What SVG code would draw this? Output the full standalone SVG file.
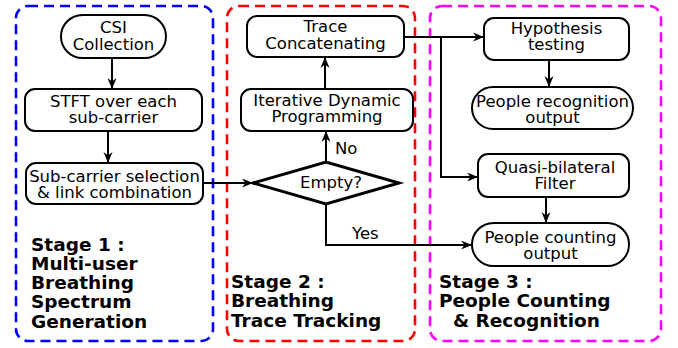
<svg xmlns="http://www.w3.org/2000/svg" width="678" height="348" viewBox="0 0 678 348">
  <style>
    .stage { fill: none; stroke-width: 2.6; stroke-dasharray: 10 6; }
    .node { fill: #fff; stroke: #000; stroke-width: 2; }
    .dia { fill: #fff; stroke: #000; stroke-width: 3; }
    .conn { fill: none; stroke: #000; stroke-width: 2; }
    .t { font-family: "DejaVu Sans", Verdana, sans-serif; font-size: 16.5px; fill: #000; text-anchor: middle; }
    .lbl { font-family: "DejaVu Sans", Verdana, sans-serif; font-size: 16.5px; fill: #000; }
    .st { font-family: "DejaVu Sans", Verdana, sans-serif; font-size: 18.5px; font-weight: bold; fill: #000; }
  </style>
  <defs>
    <marker id="arr" markerUnits="userSpaceOnUse" markerWidth="12" markerHeight="10" refX="11" refY="5" orient="auto">
      <path d="M0,0.5 L11,5 L0,9.5 L3.5,5 Z" fill="#000"/>
    </marker>
  </defs>

  <!-- stage frames -->
  <g id="stage1">
    <rect class="stage" x="16" y="6" width="197" height="335" rx="12" stroke="#0000ff"/>
    <text class="st" x="31" y="251">Stage 1 :</text>
    <text class="st" x="31" y="270">Multi-user</text>
    <text class="st" x="31" y="289">Breathing</text>
    <text class="st" x="31" y="308">Spectrum</text>
    <text class="st" x="31" y="328">Generation</text>
  </g>
  <g id="stage2">
    <rect class="stage" x="227" y="6" width="188" height="335" rx="12" stroke="#ff0000"/>
    <text class="st" x="231" y="288">Stage 2 :</text>
    <text class="st" x="231" y="307">Breathing</text>
    <text class="st" x="231" y="327">Trace Tracking</text>
  </g>
  <g id="stage3">
    <rect class="stage" x="430" y="6" width="231" height="335" rx="12" stroke="#ff00ff"/>
    <text class="st" x="439" y="288">Stage 3 :</text>
    <text class="st" x="439" y="307">People Counting</text>
    <text class="st" x="453" y="327">&amp; Recognition</text>
  </g>

  <!-- connectors -->
  <g id="connectors">
    <path class="conn" d="M112,58 V89" marker-end="url(#arr)"/>
    <path class="conn" d="M108,131 V163" marker-end="url(#arr)"/>
    <path class="conn" d="M203,183 H253" marker-end="url(#arr)"/>
    <path class="conn" d="M326,162 V131" marker-end="url(#arr)"/>
    <path class="conn" d="M325,89 V57" marker-end="url(#arr)"/>
    <path class="conn" d="M404,37 H484" marker-end="url(#arr)"/>
    <path class="conn" d="M441,37 V177 H478" marker-end="url(#arr)"/>
    <path class="conn" d="M549,60 V87" marker-end="url(#arr)"/>
    <path class="conn" d="M546,197 V223" marker-end="url(#arr)"/>
    <path class="conn" d="M326,204 V245 H472" marker-end="url(#arr)"/>
    <text class="lbl" x="335" y="154">No</text>
    <text class="lbl" x="352" y="239">Yes</text>
  </g>

  <!-- stage 1 nodes -->
  <g id="csi">
    <rect class="node" x="61" y="15" width="105" height="43" rx="21.5"/>
    <text class="t" x="113.5" y="33">CSI</text>
    <text class="t" x="113.5" y="50">Collection</text>
  </g>
  <g id="stft">
    <rect class="node" x="25" y="89" width="177" height="42" rx="10"/>
    <text class="t" x="113.5" y="107">STFT over each</text>
    <text class="t" x="113.5" y="123">sub-carrier</text>
  </g>
  <g id="selection">
    <rect class="node" x="26" y="163" width="177" height="41" rx="10"/>
    <text class="t" x="114.5" y="182">Sub-carrier selection</text>
    <text class="t" x="114.5" y="198">&amp; link combination</text>
  </g>

  <!-- stage 2 nodes -->
  <g id="empty">
    <polygon class="dia" points="253,183 326,162 399,183 326,204"/>
    <text class="t" x="331" y="188">Empty?</text>
  </g>
  <g id="idp">
    <rect class="node" x="241" y="89" width="172" height="42" rx="10"/>
    <text class="t" x="327" y="106">Iterative Dynamic</text>
    <text class="t" x="327" y="122">Programming</text>
  </g>
  <g id="trace">
    <rect class="node" x="247" y="16" width="157" height="41" rx="10"/>
    <text class="t" x="325.5" y="32">Trace</text>
    <text class="t" x="325.5" y="49">Concatenating</text>
  </g>

  <!-- stage 3 nodes -->
  <g id="hypothesis">
    <rect class="node" x="484" y="18" width="145" height="42" rx="10"/>
    <text class="t" x="556.5" y="34">Hypothesis</text>
    <text class="t" x="556.5" y="50">testing</text>
  </g>
  <g id="recognition">
    <rect class="node" x="472" y="87" width="161" height="42" rx="21"/>
    <text class="t" x="552.5" y="107">People recognition</text>
    <text class="t" x="552.5" y="123">output</text>
  </g>
  <g id="quasi">
    <rect class="node" x="478" y="154" width="151" height="43" rx="10"/>
    <text class="t" x="555" y="173">Quasi-bilateral</text>
    <text class="t" x="555" y="189">Filter</text>
  </g>
  <g id="counting">
    <rect class="node" x="472" y="223" width="157" height="43" rx="21.5"/>
    <text class="t" x="550.5" y="243">People counting</text>
    <text class="t" x="550.5" y="259">output</text>
  </g>
</svg>
